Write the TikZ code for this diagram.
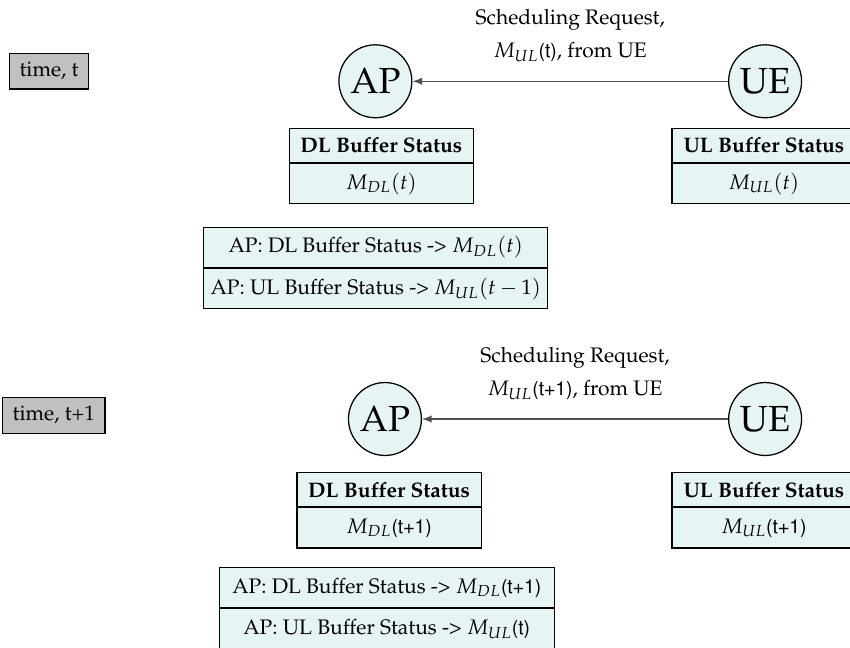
\documentclass[tikz,border=0pt]{standalone}
\usepackage[T1]{fontenc}
\usepackage{mathpazo}
\usepackage[scaled=0.92]{helvet}
\usetikzlibrary{arrows,positioning}
\definecolor{boxfill}{RGB}{230,244,244}
\definecolor{timegray}{RGB}{192,192,192}
\definecolor{arrowgray}{RGB}{80,80,80}

\begin{document}
\begin{tikzpicture}
[line width=0.6pt, >=latex,
timebox/.style={rectangle, draw, fill=timegray, minimum height=6mm, inner xsep=4.8pt, inner ysep=0pt},
station/.style={circle, draw, fill=boxfill, font=\LARGE, minimum size=12.2mm, inner sep=0pt},
bufhead/.style={rectangle, draw, fill=boxfill, font=\bfseries, minimum width=30.8mm, minimum height=5.7mm, inner sep=0pt},
bufval/.style={rectangle, draw, fill=boxfill, minimum width=30.8mm, minimum height=6.7mm, inner sep=0pt},
statrow/.style={rectangle, draw, fill=boxfill, minimum height=6.7mm, inner sep=0pt}]

\useasboundingbox (0,0) rectangle (14.22,10.83);

% time t
\node[timebox] (time1) at (0.82,9.64) {time, t};
\node[station] (ap1) at (6.28,9.47) {AP};
\node[station] (ue1) at (12.80,9.47) {UE};
\draw[->, draw=arrowgray] (ue1) -- node[above=5.5pt, align=center] (req1) {Scheduling Request,\\[3.7pt]$M_{UL}$\textsf{(t)}, from UE} (ap1);

\node[bufhead] (dlhead1) at (6.38,8.40) {DL Buffer Status};
\node[bufval, below=0pt of dlhead1] (dlval1) {$M_{DL}(t)$};
\node[bufhead] (ulhead1) at (12.78,8.40) {UL Buffer Status};
\node[bufval, below=0pt of ulhead1] (ulval1) {$M_{UL}(t)$};

\node[statrow, minimum width=57.5mm, anchor=west] (apdl1) at (3.40,6.69) {AP: DL Buffer Status -> $M_{DL}(t)$};
\node[statrow, minimum width=57.5mm, below=0pt of apdl1] (apul1) {AP: UL Buffer Status -> $M_{UL}(t-1)$};

% time t+1
\node[timebox] (time2) at (0.90,3.88) {time, t+1};
\node[station] (ap2) at (6.44,3.82) {AP};
\node[station] (ue2) at (12.80,3.82) {UE};
\draw[->, draw=arrowgray] (ue2) -- node[above=5.5pt, align=center] (req2) {Scheduling Request,\\[3.7pt]$M_{UL}$\textsf{(t+1)}, from UE} (ap2);

\node[bufhead] (dlhead2) at (6.51,2.64) {DL Buffer Status};
\node[bufval, below=0pt of dlhead2] (dlval2) {$M_{DL}$\textsf{(t+1)}};
\node[bufhead] (ulhead2) at (12.78,2.64) {UL Buffer Status};
\node[bufval, below=0pt of ulhead2] (ulval2) {$M_{UL}$\textsf{(t+1)}};

\node[statrow, minimum width=56mm, anchor=west] (apdl2) at (3.66,1.00) {AP: DL Buffer Status -> $M_{DL}$\textsf{(t+1)}};
\node[statrow, minimum width=56mm, below=0pt of apdl2] (apul2) {AP: UL Buffer Status -> $M_{UL}$\textsf{(t)}};
\end{tikzpicture}
\end{document}
